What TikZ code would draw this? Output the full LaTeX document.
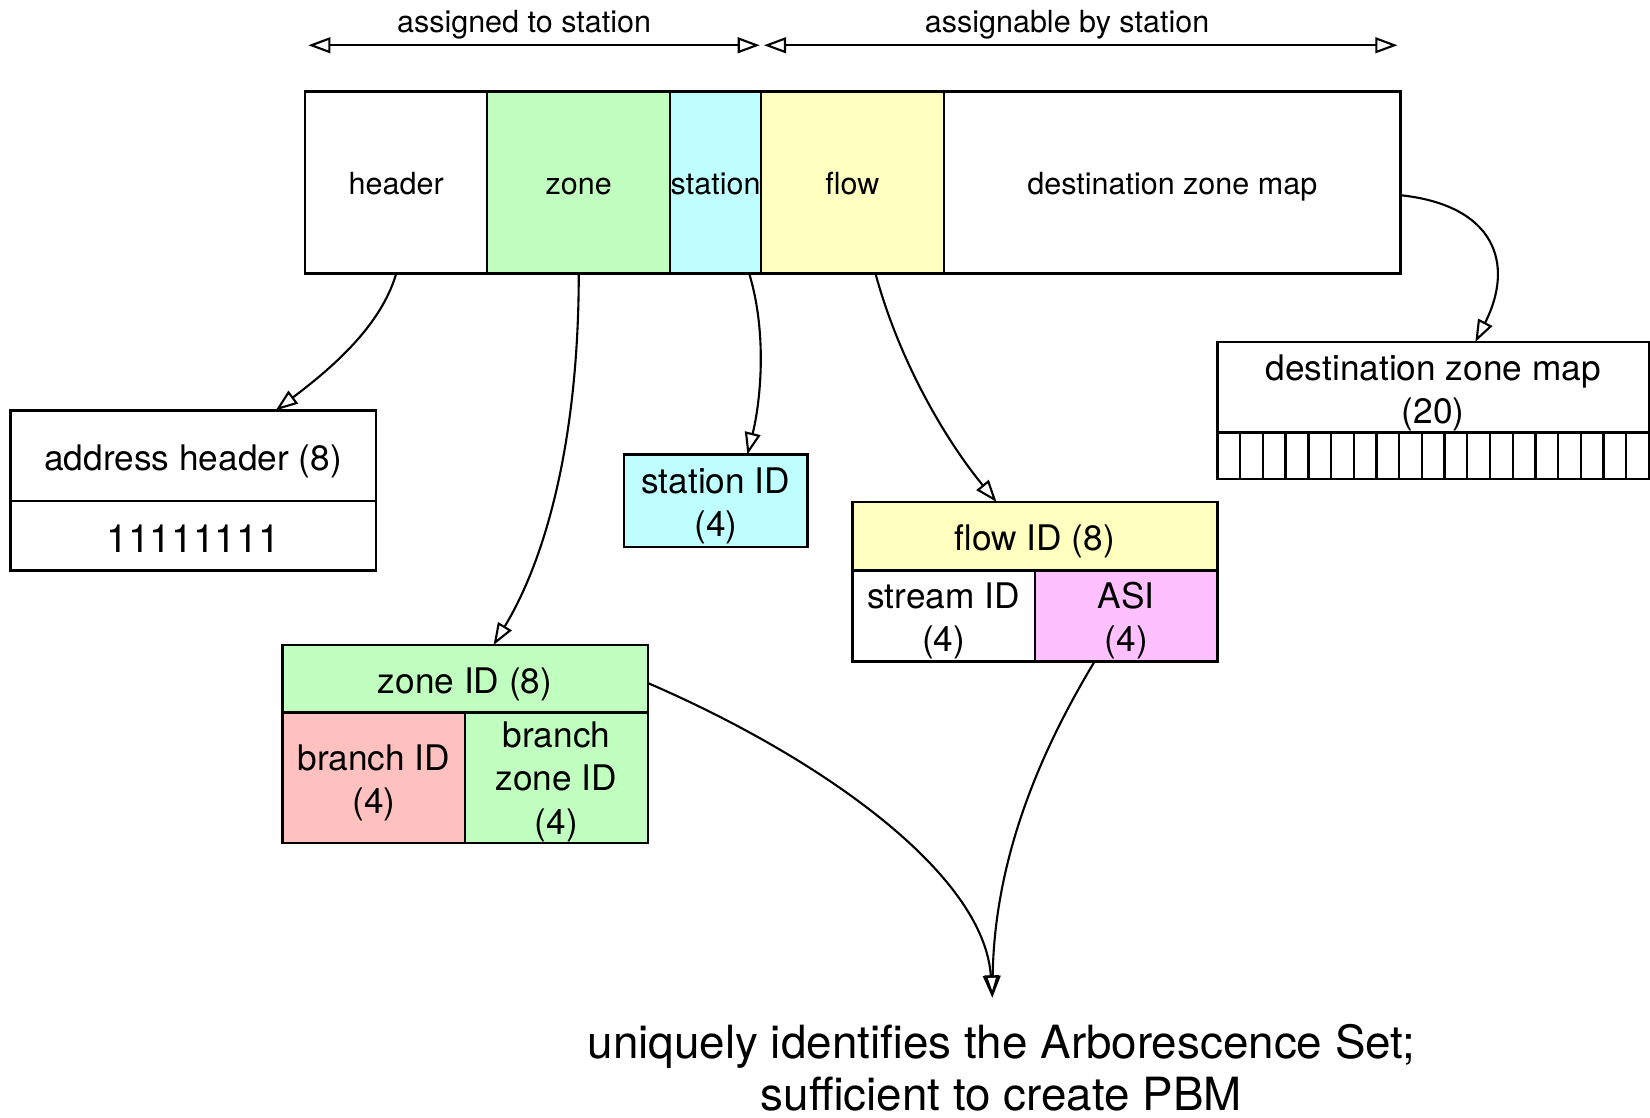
\documentclass[tikz,border=0pt]{standalone}
\usepackage{fontspec}
\setmainfont{TeX Gyre Heros}
\usetikzlibrary{arrows.meta,calc}
\definecolor{zonegreen}{HTML}{C0FFC0}
\definecolor{stationcyan}{HTML}{C0FFFF}
\definecolor{flowyellow}{HTML}{FFFFC0}
\definecolor{asipink}{HTML}{FFC0FF}
\definecolor{branchred}{HTML}{FFC0C0}

% invisible strut on the first text line: depth 0.25em, given height above the baseline
\newcommand{\lblstrut}[1]{\rule[-0.25em]{0pt}{\dimexpr #1+0.25em\relax}}
% first line strut inside multi-line field labels
\newcommand{\fl}{\lblstrut{1.07em}}

\begin{document}
\begin{tikzpicture}[
  x=0.5pt, y=-0.5pt,
  fieldbox/.style={draw, line width=1.1pt, inner sep=0pt, outer sep=0pt, align=center, anchor=north west},
  smalltext/.style={font=\fontsize{14.5}{17}\selectfont},
  barfield/.style={fieldbox, smalltext, execute at begin node={\lblstrut{1.0em}}},
  boxtext/.style={fieldbox, font=\fontsize{16.75}{20.5}\selectfont, execute at begin node={\lblstrut{1.07em}}},
  bittext/.style={fieldbox, font=\fontsize{18.5}{22}\selectfont, execute at begin node={\lblstrut{1.11em}}},
  bigtext/.style={font=\fontsize{21.75}{25.5}\selectfont, inner sep=0pt},
  opentip/.tip={Triangle[open, length=10.5pt, width=7.5pt]},
  conn/.style={line width=1pt, -{opentip}},
  spanarrow/.style={line width=1pt, {opentip}-{opentip}},
]
\useasboundingbox (0,0) rectangle (1568,1062);
\clip (0,0) rectangle (1568,1062);

% ranges above the address
\coordinate (asgL) at (293,43);
\coordinate (asgR) at (722,43);
\coordinate (abyL) at (726,43);
\coordinate (abyR) at (1328,43);
\draw[spanarrow] (asgL) -- (asgR);
\draw[spanarrow] (abyL) -- (abyR);
\node[smalltext, anchor=base] (asglbl) at (498,31) {assigned to station};
\node[smalltext, anchor=base] (abylbl) at (1014,31) {assignable by station};

% address fields
\node[barfield, minimum width=86.5pt, minimum height=86.5pt] (hdr) at (290,87) {header};
\node[barfield, fill=zonegreen, minimum width=87pt, minimum height=86.5pt] (zone) at (463,87) {zone};
\node[barfield, fill=stationcyan, minimum width=43pt, minimum height=86.5pt] (station) at (637,87) {station};
\node[barfield, fill=flowyellow, minimum width=87pt, minimum height=86.5pt] (flow) at (723,87) {flow};
\node[barfield, minimum width=217pt, minimum height=86.5pt] (dzm) at (897,87) {destination zone map};

% address header
\node[boxtext, minimum width=173.5pt, minimum height=43pt] (addrhead) at (10,390) {address header (8)};
\node[bittext, minimum width=173.5pt, minimum height=33pt] (addrval) at (10,476) {11111111};

% station ID
\node[boxtext, fill=stationcyan, minimum width=87.25pt, minimum height=44pt] (stationid) at (593,432) {\fl station ID\\(4)};

% flow ID
\node[boxtext, fill=flowyellow, minimum width=173.5pt, minimum height=32.5pt] (flowid) at (810,477) {flow ID (8)};
\node[boxtext, minimum width=86.75pt, minimum height=43.25pt] (streamid) at (810,542) {\fl stream ID\\(4)};
\node[boxtext, fill=asipink, minimum width=86.75pt, minimum height=43.25pt] (asi) at (983.5,542) {\fl ASI\\(4)};

% zone ID
\node[boxtext, fill=zonegreen, minimum width=173.5pt, minimum height=32pt] (zoneid) at (268.5,613) {zone ID (8)};
\node[boxtext, fill=branchred, minimum width=86.75pt, minimum height=62pt] (branchid) at (268.5,677) {\fl branch ID\\(4)};
\node[boxtext, execute at begin node={}, fill=zonegreen, minimum width=86.75pt, minimum height=62pt] (branchzone) at (442,677) {\lblstrut{1.0em}branch\\zone ID\\(4)};

% destination zone map with its row of bit cells
\node[boxtext, minimum width=205pt, minimum height=43pt] (dzmbox) at (1157,325) {\fl destination zone map\\(20)};
\node[fieldbox, minimum width=205pt, minimum height=22pt] (bitrow) at (1157,411) {};
\foreach \i in {1,...,18}
  \draw[line width=1.1pt] ($(bitrow.north west)+({21.58*\i},0)$) -- ($(bitrow.south west)+({21.58*\i},0)$);

% conclusion
\coordinate (goal) at (943,948);
\node[bigtext, anchor=base] (note1) at (951.5,1006) {uniquely identifies the Arborescence Set;};
\node[bigtext, anchor=base] (note2) at (951.5,1055) {sufficient to create PBM};

% connectors
\draw[conn] (hdr.south) .. controls (362,310) and (315,350) .. ([xshift=39.25pt]addrhead.north);
\draw[conn] (zone.south) .. controls (550,400) and (525,520) .. ([xshift=13.5pt]zoneid.north);
\draw[conn] ([xshift=16pt]station.south) .. controls (730,320) and (722,385) .. ([xshift=15pt]stationid.north);
\draw[conn] ([xshift=11pt]flow.south) .. controls (855,345) and (900,420) .. ([xshift=-18.25pt]flowid.north);
\draw[conn] ([yshift=-6pt]dzm.east) .. controls (1420,195) and (1440,250) .. ([xshift=20pt]dzmbox.north);
\draw[conn] ([yshift=-2pt]zoneid.east) .. controls (780,720) and (935,830) .. (goal);
\draw[conn] ([xshift=-15pt]asi.south) .. controls (985,720) and (945,820) .. (goal);
\end{tikzpicture}
\end{document}
